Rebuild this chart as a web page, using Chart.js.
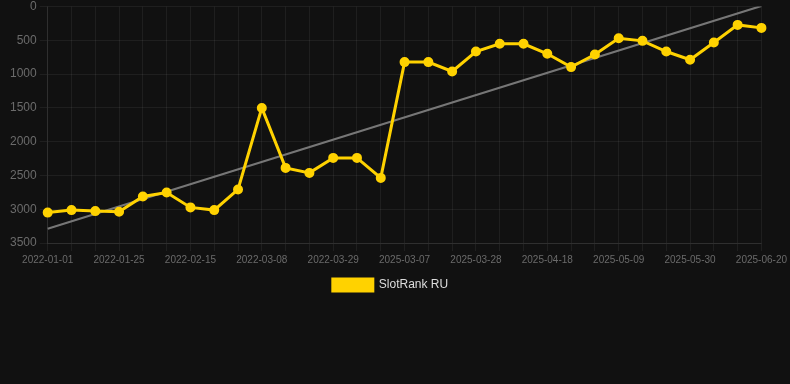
<!DOCTYPE html>
<html>
<head>
<meta charset="utf-8">
<script src="https://cdn.jsdelivr.net/npm/chart.js@4/dist/chart.umd.min.js"></script>
<style>
html,body{margin:0;padding:0;background:#111111;}
#wrap{width:790px;height:384px;}
</style>
</head>
<body>
<div id="wrap"><canvas id="c" width="790" height="384"></canvas></div>
<script>
const categories = [
  "2022-01-01","2022-01-11","2022-01-18","2022-01-25","2022-02-01","2022-02-08",
  "2022-02-15","2022-02-22","2022-03-01","2022-03-08","2022-03-15","2022-03-22",
  "2022-03-29","2022-04-05","2022-04-12","2025-03-07","2025-03-14","2025-03-21",
  "2025-03-28","2025-04-04","2025-04-11","2025-04-18","2025-04-25","2025-05-02",
  "2025-05-09","2025-05-16","2025-05-23","2025-05-30","2025-06-06","2025-06-13",
  "2025-06-20"
];
const rankValues = [
  3050, 3013, 3028, 3038, 2811, 2752, 2973, 3013, 2708, 1500, 2388,
  2462, 2240, 2240, 2536, 822, 822, 960, 665, 551, 551,
  699, 896, 709, 468, 507, 665, 787, 532, 271, 315
];
const trendStart = 3290;
const trendEnd = -10;
const trendValues = categories.map((c, i) =>
  i === 0 ? trendStart : (i === categories.length - 1 ? trendEnd : null));
const yTicks = [0, 500, 1000, 1500, 2000, 2500, 3000, 3500];

const gold = '#FFD200';
const legendShift = {
  id: 'legendShift',
  afterLayout(chart) {
    if (chart.legend) { chart.legend.left -= 6; chart.legend.right -= 6; }
  }
};
new Chart(document.getElementById('c'), {
  type: 'line',
  plugins: [legendShift],
  data: {
    labels: categories,
    datasets: [
      {
        label: 'SlotRank RU',
        data: rankValues,
        borderColor: gold,
        backgroundColor: gold,
        borderWidth: 3,
        pointRadius: 4,
        pointBorderWidth: 2,
        pointBackgroundColor: gold,
        pointBorderColor: gold,
        tension: 0,
        order: 1
      },
      {
        label: 'trend',
        data: trendValues,
        spanGaps: true,
        borderColor: 'rgba(130,130,130,0.9)',
        borderWidth: 2,
        pointRadius: 0,
        pointHoverRadius: 0,
        fill: false,
        order: 2
      }
    ]
  },
  options: {
    responsive: false,
    animation: false,
    layout: { padding: { bottom: 83, right: 4, left: 7, top: 0 } },
    plugins: {
      legend: {
        position: 'bottom',
        labels: {
          color: '#dddddd',
          font: { family: 'Liberation Sans, Arial, sans-serif', size: 12 },
          boxWidth: 40,
          boxHeight: 12,
          filter: (item) => item.text !== 'trend'
        }
      },
      tooltip: { enabled: false }
    },
    scales: {
      x: {
        offset: false,
        grid: { color: 'rgba(255,255,255,0.06)', tickColor: 'rgba(255,255,255,0.06)' },
        border: { color: 'rgba(255,255,255,0.08)' },
        ticks: {
          color: '#6b6b6b',
          font: { family: 'Liberation Sans, Arial, sans-serif', size: 10 },
          maxRotation: 0,
          autoSkip: false,
          callback: function(v, i) { return i % 3 === 0 ? categories[i] : ''; }
        }
      },
      y: {
        reverse: true,
        min: 0,
        max: 3500,
        afterBuildTicks: (axis) => { axis.ticks = yTicks.map(v => ({ value: v })); },
        grid: { color: 'rgba(255,255,255,0.06)', tickColor: 'rgba(255,255,255,0.06)' },
        border: { color: 'rgba(255,255,255,0.08)' },
        ticks: {
          color: '#6b6b6b',
          font: { family: 'Liberation Sans, Arial, sans-serif', size: 12, lineHeight: 0.6 },
          callback: (v) => String(v)
        }
      }
    }
  }
});
</script>
</body>
</html>
